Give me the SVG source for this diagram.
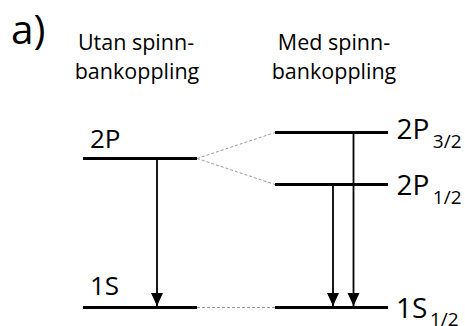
<svg xmlns="http://www.w3.org/2000/svg" width="465" height="326" viewBox="0 0 465 326">
  <style>
    text { font-family: "Open Sans", "Noto Sans", "DejaVu Sans", sans-serif; fill: #000; }
    .title { font-size: 21.5px; text-anchor: middle; }
    .lbl-l { font-size: 26px; }
    .lbl-r { font-size: 28px; }
    .sub { font-size: 19px; }
    .level { stroke: #000; stroke-width: 3; fill: none; }
    .arrow { stroke: #000; stroke-width: 1.8; fill: none; marker-end: url(#head); }
    .link { stroke: #999; stroke-width: 1; stroke-dasharray: 3 2; fill: none; }
  </style>
  <defs>
    <marker id="head" markerUnits="userSpaceOnUse" viewBox="0 -7 14 14" refX="13" refY="0" markerWidth="14" markerHeight="14" orient="auto">
      <path d="M0,-6 L13,0 L0,6 z" fill="#000"/>
    </marker>
  </defs>

  <rect width="465" height="326" fill="#fff"/>

  <text x="11" y="43.5" style="font-size:40.5px">a)</text>

  <g id="heading-left">
    <text class="title" x="136" y="50">Utan spinn-</text>
    <text class="title" x="137" y="78.5">bankoppling</text>
  </g>
  <g id="heading-right">
    <text class="title" x="334" y="50">Med spinn-</text>
    <text class="title" x="334" y="78.5">bankoppling</text>
  </g>

  <!-- levels without spin-orbit coupling -->
  <g id="level-2P">
    <line class="level" x1="83" y1="158.5" x2="197" y2="158.5"/>
    <text class="lbl-l" x="90" y="148.3">2P</text>
  </g>
  <g id="level-1S">
    <line class="level" x1="83" y1="307.5" x2="197" y2="307.5"/>
    <text class="lbl-l" x="90" y="295">1S</text>
  </g>

  <!-- levels with spin-orbit coupling -->
  <g id="level-2P32">
    <line class="level" x1="275" y1="132.5" x2="388" y2="132.5"/>
    <text class="lbl-r" x="396.5" y="139">2P<tspan class="sub" dx="3.5" dy="9">3/2</tspan></text>
  </g>
  <g id="level-2P12">
    <line class="level" x1="275" y1="184.5" x2="388" y2="184.5"/>
    <text class="lbl-r" x="396.5" y="195">2P<tspan class="sub" dx="3.5" dy="9">1/2</tspan></text>
  </g>
  <g id="level-1S12">
    <line class="level" x1="275" y1="307.5" x2="388" y2="307.5"/>
    <text class="lbl-r" x="396" y="318.3">1S<tspan class="sub" dx="2.5" dy="8">1/2</tspan></text>
  </g>

  <g id="connectors">
    <line class="link" x1="197" y1="158.5" x2="275" y2="132.5"/>
    <line class="link" x1="197" y1="158.5" x2="275" y2="184.5"/>
    <line class="link" x1="197" y1="307.5" x2="275" y2="307.5"/>
    <line class="arrow" x1="157" y1="160" x2="157" y2="306"/>
    <line class="arrow" x1="333" y1="186" x2="333" y2="306"/>
    <line class="arrow" x1="353.5" y1="134" x2="353.5" y2="306"/>
  </g>
</svg>
